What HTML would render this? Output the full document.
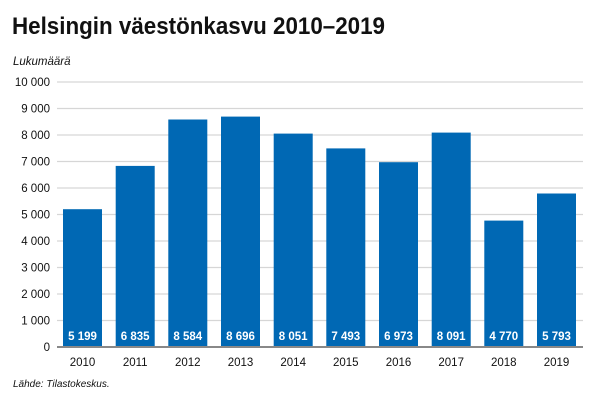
<!DOCTYPE html>
<html><head><meta charset="utf-8"><style>
html,body{margin:0;padding:0;background:#fff;}
svg{display:block;font-family:"Liberation Sans",sans-serif;}
</style></head><body>
<svg width="600" height="400" viewBox="0 0 600 400" xmlns="http://www.w3.org/2000/svg">
<text x="12" y="34" font-size="24" font-weight="bold" fill="#111" textLength="373" lengthAdjust="spacingAndGlyphs">Helsingin väestönkasvu 2010–2019</text>
<text x="13" y="65" font-size="11.5" font-style="italic" fill="#111">Lukumäärä</text>
<g stroke="#d6d6d6" stroke-width="1.2">
<line x1="57" x2="583" y1="82" y2="82"/><line x1="57" x2="583" y1="108.5" y2="108.5"/>
<line x1="57" x2="583" y1="135" y2="135"/><line x1="57" x2="583" y1="161.5" y2="161.5"/>
<line x1="57" x2="583" y1="188" y2="188"/><line x1="57" x2="583" y1="214.5" y2="214.5"/>
<line x1="57" x2="583" y1="241" y2="241"/><line x1="57" x2="583" y1="267.5" y2="267.5"/>
<line x1="57" x2="583" y1="294" y2="294"/><line x1="57" x2="583" y1="320.5" y2="320.5"/>
</g>
<g font-size="11.5" fill="#111" text-anchor="end">
<text x="50" y="86">10 000</text><text x="50" y="112.5">9 000</text><text x="50" y="139">8 000</text>
<text x="50" y="165.5">7 000</text><text x="50" y="192">6 000</text><text x="50" y="218.5">5 000</text>
<text x="50" y="245">4 000</text><text x="50" y="271.5">3 000</text><text x="50" y="298">2 000</text>
<text x="50" y="324.5">1 000</text><text x="50" y="351">0</text>
</g>
<g fill="#0068b4">
<rect x="63" y="209.2" width="39" height="137.8"/>
<rect x="115.7" y="165.9" width="39" height="181.1"/>
<rect x="168.3" y="119.5" width="39" height="227.5"/>
<rect x="221" y="116.6" width="39" height="230.4"/>
<rect x="273.7" y="133.6" width="39" height="213.4"/>
<rect x="326.3" y="148.4" width="39" height="198.6"/>
<rect x="379" y="162.2" width="39" height="184.8"/>
<rect x="431.7" y="132.6" width="39" height="214.4"/>
<rect x="484.3" y="220.6" width="39" height="126.4"/>
<rect x="537" y="193.5" width="39" height="153.5"/>
</g>
<line x1="57" x2="583" y1="347" y2="347" stroke="#888" stroke-width="2"/>
<g font-size="11.5" font-weight="bold" fill="#fff" text-anchor="middle">
<text x="82.5" y="340">5 199</text><text x="135.2" y="340">6 835</text><text x="187.8" y="340">8 584</text>
<text x="240.5" y="340">8 696</text><text x="293.2" y="340">8 051</text><text x="345.8" y="340">7 493</text>
<text x="398.5" y="340">6 973</text><text x="451.2" y="340">8 091</text><text x="503.8" y="340">4 770</text>
<text x="556.5" y="340">5 793</text>
</g>
<g font-size="11.5" fill="#111" text-anchor="middle">
<text x="82.5" y="366">2010</text><text x="135.2" y="366">2011</text><text x="187.8" y="366">2012</text>
<text x="240.5" y="366">2013</text><text x="293.2" y="366">2014</text><text x="345.8" y="366">2015</text>
<text x="398.5" y="366">2016</text><text x="451.2" y="366">2017</text><text x="503.8" y="366">2018</text>
<text x="556.5" y="366">2019</text>
</g>
<text x="13" y="387" font-size="10" font-style="italic" fill="#111">Lähde: Tilastokeskus.</text>
</svg>
</body></html>
